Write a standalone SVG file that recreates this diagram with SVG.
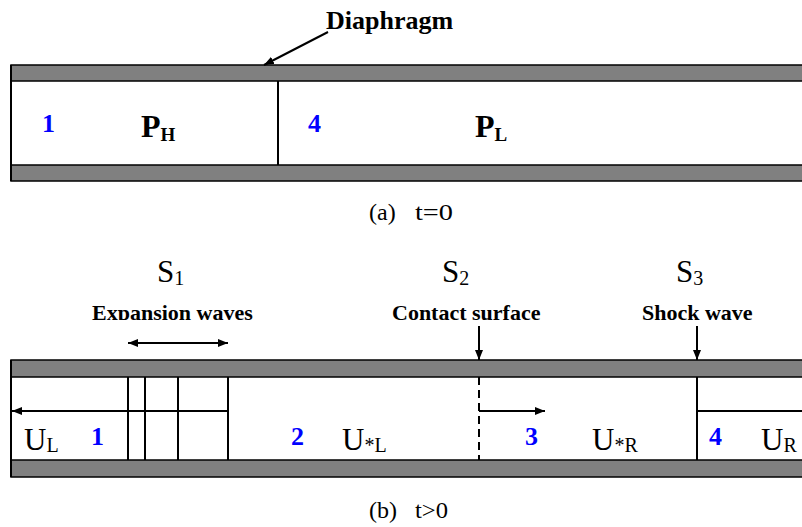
<svg xmlns="http://www.w3.org/2000/svg" width="802" height="527" viewBox="0 0 802 527">
<style>
.wall{fill:#808080;stroke:#000;stroke-width:1.5}
.ln{stroke:#000;stroke-width:2;fill:none}
.num{font-family:"Liberation Serif",serif;font-weight:bold;font-size:26px;fill:#0000ff}
.lbl{font-family:"Liberation Serif",serif;font-weight:bold;font-size:22px;fill:#000}
.big{font-family:"Liberation Serif",serif;font-size:31px;fill:#000}
.sub{font-size:20px}
.cap{font-family:"Liberation Serif",serif;font-size:24px;fill:#000}
.pb{font-family:"Liberation Serif",serif;font-weight:bold;font-size:32px;fill:#000}
</style>
<defs>
<marker id="ah" viewBox="0 0 10 8" refX="10" refY="4" markerWidth="10" markerHeight="8" markerUnits="userSpaceOnUse" orient="auto-start-reverse">
<path d="M0,0 L10,4 L0,8 Z" fill="#000"/>
</marker>
<clipPath id="clipLbl"><rect x="0" y="290" width="802" height="30"/></clipPath>
</defs>
<rect width="802" height="527" fill="#fff"/>

<g id="tube-a">
<rect class="wall" x="11" y="65" width="800" height="16"/>
<rect class="wall" x="11" y="165" width="800" height="16"/>
<line class="ln" x1="11" y1="65" x2="11" y2="181"/>
</g>
<g id="diaphragm-line"><line class="ln" x1="278" y1="81" x2="278" y2="165"/></g>
<g id="diaphragm-label"><text class="lbl" x="326" y="29" style="font-size:26px">Diaphragm</text></g>
<g id="region-a1"><text class="num" x="42" y="132">1</text></g>
<g id="region-a-ph"><text class="pb" x="141" y="137">P<tspan class="sub" style="font-size:19px" dy="4">H</tspan></text></g>
<g id="region-a4"><text class="num" x="308" y="132">4</text></g>
<g id="region-a-pl"><text class="pb" x="475" y="137">P<tspan class="sub" style="font-size:19px" dy="4">L</tspan></text></g>
<g id="caption-a"><text class="cap" x="369" y="220">(a) <tspan x="415" textLength="38" lengthAdjust="spacingAndGlyphs">t=0</tspan></text></g>

<g id="tube-b">
<rect class="wall" x="11" y="360" width="800" height="17"/>
<rect class="wall" x="11" y="460" width="800" height="17"/>
<line class="ln" x1="11" y1="360" x2="11" y2="477"/>
</g>
<g id="expansion-fan">
<line class="ln" x1="128" y1="377" x2="128" y2="460"/>
<line class="ln" x1="145" y1="377" x2="145" y2="460"/>
<line class="ln" x1="178" y1="377" x2="178" y2="460"/>
<line class="ln" x1="228" y1="377" x2="228" y2="460"/>
</g>
<g id="contact-surface"><line class="ln" x1="479" y1="377" x2="479" y2="460" stroke-dasharray="8,5"/></g>
<g id="shock-wave"><line class="ln" x1="697" y1="377" x2="697" y2="460"/></g>

<g id="s1"><text class="big" x="157" y="282">S<tspan class="sub" dy="3">1</tspan></text></g>
<g id="s2"><text class="big" x="442" y="282">S<tspan class="sub" dy="3">2</tspan></text></g>
<g id="s3"><text class="big" x="676" y="282">S<tspan class="sub" dy="3">3</tspan></text></g>
<g id="labels-b" clip-path="url(#clipLbl)">
<text class="lbl" x="92" y="320">Expansion waves</text>
<text class="lbl" x="392" y="320">Contact surface</text>
<text class="lbl" x="642" y="320">Shock wave</text>
</g>

<g id="region-b1"><text class="big" x="24" y="450">U<tspan class="sub" dy="2">L</tspan></text><text class="num" x="91" y="445">1</text></g>
<g id="region-b2"><text class="num" x="291" y="445">2</text><text class="big" x="342" y="450">U<tspan class="sub" dy="2">*L</tspan></text></g>
<g id="region-b3"><text class="num" x="525" y="445">3</text><text class="big" x="592" y="450">U<tspan class="sub" dy="2">*R</tspan></text></g>
<g id="region-b4"><text class="num" x="709" y="445">4</text><text class="big" x="761" y="450">U<tspan class="sub" dy="2">R</tspan></text></g>
<g id="caption-b"><text class="cap" x="369" y="518">(b) <tspan x="415" textLength="33" lengthAdjust="spacingAndGlyphs">t&gt;0</tspan></text></g>

<g id="connectors">
<line class="ln" x1="328" y1="32" x2="264" y2="65" marker-end="url(#ah)"/>
<line class="ln" x1="128" y1="343" x2="228" y2="343" marker-start="url(#ah)" marker-end="url(#ah)"/>
<line class="ln" x1="479" y1="326" x2="479" y2="360" marker-end="url(#ah)"/>
<line class="ln" x1="697" y1="326" x2="697" y2="360" marker-end="url(#ah)"/>
<line class="ln" x1="228" y1="411" x2="12" y2="411" marker-end="url(#ah)"/>
<line class="ln" x1="479" y1="411" x2="545" y2="411" marker-end="url(#ah)"/>
<line class="ln" x1="697" y1="411" x2="802" y2="411"/>
</g>
</svg>
